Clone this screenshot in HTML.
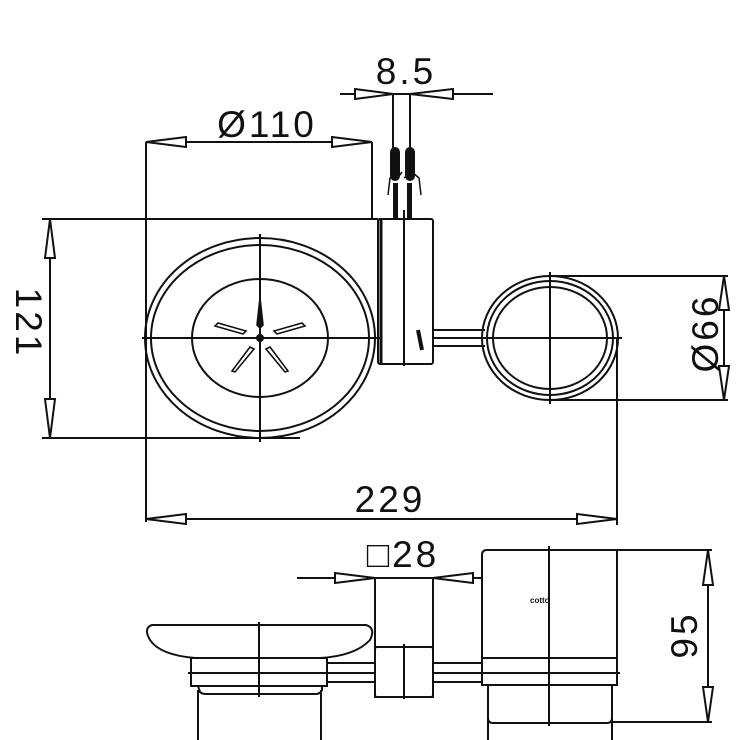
<!DOCTYPE html>
<html><head><meta charset="utf-8"><style>html,body{margin:0;padding:0;background:#fff}svg{display:block}</style></head>
<body>
<svg width="740" height="740" viewBox="0 0 740 740" xmlns="http://www.w3.org/2000/svg" font-family="Liberation Sans, DejaVu Sans, sans-serif">
<g fill="none" stroke="#111" stroke-width="2">
<line x1="146" y1="142" x2="146" y2="522"/>
<line x1="372" y1="142" x2="372" y2="219"/>
<line x1="146" y1="142" x2="372" y2="142"/>
<polygon points="146,142 186,137 186,147" fill="#fff"/>
<polygon points="372,142 332,137 332,147" fill="#fff"/>
<line x1="42" y1="219" x2="378" y2="219"/>
<line x1="42" y1="438" x2="300" y2="438"/>
<line x1="50" y1="219" x2="50" y2="438"/>
<polygon points="50,219 45,258 55,258" fill="#fff"/>
<polygon points="50,438 45,399 55,399" fill="#fff"/>
<ellipse cx="260" cy="338" rx="115" ry="100"/>
<ellipse cx="260" cy="338" rx="109" ry="93"/>
<ellipse cx="260" cy="338" rx="68" ry="59"/>
<line x1="142" y1="338" x2="380" y2="338"/>
<line x1="260" y1="234" x2="260" y2="442"/>
<circle cx="260" cy="338" r="3" fill="#111"/>
<g stroke-width="1.6">
<path d="M260,298 L257,325 L260,328 L263,325 Z" fill="#111"/>
<path d="M215,326 L243,334 L246,331 L218,323 Z"/>
<path d="M305,326 L277,334 L274,331 L302,323 Z"/>
<path d="M232,371 L250,347 L254,349 L235,372 Z"/>
<path d="M288,371 L270,347 L266,349 L285,372 Z"/>
</g>
<rect x="378" y="219" width="55" height="145" rx="2"/>
<line x1="404" y1="210" x2="404" y2="366"/>
<line x1="381" y1="219" x2="381" y2="364" stroke-width="3"/>
<path d="M418,330 L422,350" stroke-width="4"/>
<line x1="340" y1="94" x2="493" y2="94"/>
<polygon points="393,94 355,89 355,99" fill="#fff"/>
<polygon points="410,94 453,89 453,99" fill="#fff"/>
<line x1="393" y1="94" x2="393" y2="150"/>
<line x1="410" y1="94" x2="410" y2="150"/>
<rect x="391" y="148" width="8" height="32" rx="4" fill="#111"/>
<rect x="406" y="148" width="8" height="32" rx="4" fill="#111"/>
<path d="M388,195 L390,178 L398,172 M402,172 L396,180 M404,178 L412,172 L419,178 L421,195" stroke-width="1.5"/>
<rect x="393" y="183" width="5" height="36" fill="#111" stroke="none"/>
<rect x="407" y="183" width="5" height="36" fill="#111" stroke="none"/>
<line x1="433" y1="330" x2="485" y2="330"/>
<line x1="433" y1="338" x2="485" y2="338"/>
<line x1="433" y1="346" x2="485" y2="346"/>
<ellipse cx="550" cy="338" rx="68" ry="62"/>
<ellipse cx="550" cy="338" rx="63" ry="57"/>
<ellipse cx="550" cy="338" rx="57" ry="51"/>
<line x1="480" y1="338" x2="622" y2="338"/>
<line x1="550" y1="272" x2="550" y2="404"/>
<line x1="550" y1="276" x2="728" y2="276"/>
<line x1="550" y1="400" x2="728" y2="400"/>
<line x1="724" y1="276" x2="724" y2="400"/>
<polygon points="724,276 719,310 729,310" fill="#fff"/>
<polygon points="724,400 719,366 729,366" fill="#fff"/>
<line x1="617" y1="338" x2="617" y2="525"/>
<line x1="146" y1="519" x2="617" y2="519"/>
<polygon points="146,519 186,514 186,524" fill="#fff"/>
<polygon points="617,519 577,514 577,524" fill="#fff"/>
<!-- bottom: soap dish -->
<path d="M152,625 L366,625 Q376,628 370,640 Q355,656 320,658 L195,658 Q160,655 150,640 Q143,628 152,625 Z"/>
<rect x="191" y="658" width="136" height="28"/>
<path d="M198,686 L200,692 Q202,694 206,694 L316,694 Q320,694 322,690 L322,686"/>
<line x1="198" y1="690" x2="198" y2="740"/>
<line x1="321" y1="690" x2="321" y2="740"/>
<line x1="259" y1="622" x2="259" y2="697"/>
<!-- rod -->
<line x1="327" y1="663" x2="482" y2="663"/>
<line x1="188" y1="673" x2="620" y2="673"/>
<line x1="327" y1="682" x2="482" y2="682"/>
<!-- square block -->
<rect x="375" y="578" width="58" height="119" fill="#fff"/>
<rect x="375" y="647" width="58" height="50" rx="2" fill="#fff"/>
<line x1="404" y1="644" x2="404" y2="699"/>
<line x1="297" y1="578" x2="505" y2="578"/>
<polygon points="375,578 335,573 335,583" fill="#fff"/>
<polygon points="433,578 473,573 473,583" fill="#fff"/>
<!-- cup -->
<path d="M482,658 L482,555 Q482,550 487,550 L617,550 L617,658 Z" fill="#fff"/>
<rect x="482" y="658" width="135" height="27" fill="#fff"/>
<line x1="482" y1="673" x2="620" y2="673"/>
<path d="M488,685 L488,718 Q488,723 493,723 L607,723 Q612,723 612,718 L612,685"/>
<line x1="488" y1="718" x2="488" y2="740"/>
<line x1="612" y1="718" x2="612" y2="740"/>
<line x1="549" y1="546" x2="549" y2="726"/>
<line x1="617" y1="550" x2="712" y2="550"/>
<line x1="612" y1="722" x2="712" y2="722"/>
<line x1="708" y1="550" x2="708" y2="722"/>
<polygon points="708,550 703,585 713,585" fill="#fff"/>
<polygon points="708,722 703,687 713,687" fill="#fff"/>
</g>
<g fill="#111" letter-spacing="3">
<text x="267" y="137" font-size="37" text-anchor="middle">Ø110</text>
<text x="406" y="84" font-size="37" text-anchor="middle">8.5</text>
<text x="390" y="512" font-size="37" text-anchor="middle">229</text>
<text x="0" y="0" font-size="37" text-anchor="middle" transform="translate(16,323) rotate(90)">121</text>
<text x="0" y="0" font-size="37" text-anchor="middle" transform="translate(718,333) rotate(-90)">Ø66</text>
<text x="0" y="0" font-size="37" text-anchor="middle" transform="translate(697,635) rotate(-90)">95</text>
<text x="403" y="567" font-size="37" text-anchor="middle">□28</text>
<text x="530" y="603" font-size="8" font-weight="bold" letter-spacing="0">cotto</text>
</g>
</svg>
</body></html>
